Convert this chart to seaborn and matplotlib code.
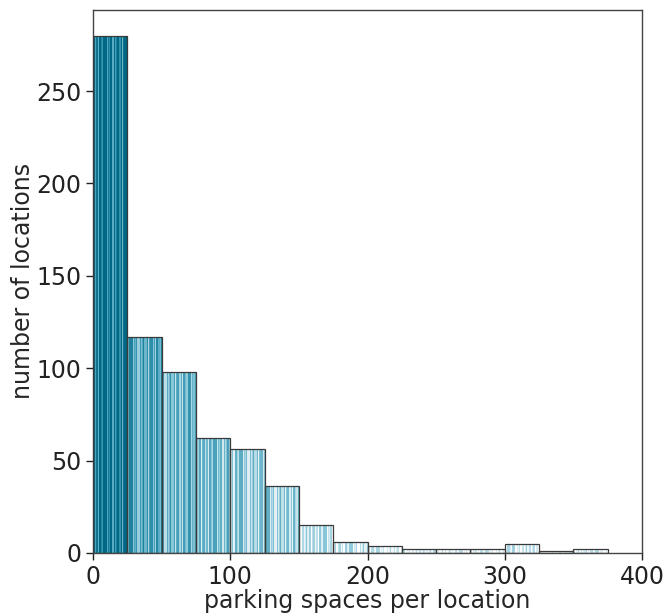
"""
plot.py - histogram of parking spaces per location,
bars filled with thin blue stripes like the original figure
"""
import numpy as np
import pandas as pd
import matplotlib
matplotlib.use("Agg")
import matplotlib.pyplot as plt
from matplotlib.colors import LinearSegmentedColormap
import seaborn as sns

# Bin edges (width 25) and number of locations in each bin
BIN_LEFT = [0, 25, 50, 75, 100, 125, 150, 175, 200, 225, 250, 275, 300, 325, 350]
COUNTS = [280, 117, 98, 62, 56, 36, 15, 6, 4, 2, 2, 2, 5, 1, 2]

# How dark the stripes look on average in each bin (0 = white, 1 = dark teal)
SHADE = [0.84, 0.62, 0.52, 0.45, 0.38, 0.36, 0.22, 0.2, 0.12, 0.1, 0.08, 0.08, 0.15, 0.05, 0.1]

# Repeating stripe pattern, only a texture on top of the mean shade
STRIPES = [0.3, 0.3, -0.25, 0.15, -0.4, 0.35, 0.35, 0.0, -0.15, 0.4, 0.4, 0.4, -0.3, 0.1,
           -0.05, 0.25, -0.35, -0.35, 0.2, -0.2, 0.05, 0.4, -0.1, -0.1, 0.3, -0.45, 0.15]

BIN_WIDTH = 25

sns.set_style("white")
plt.rcParams['font.family'] = ['DejaVu Sans']

stripe_cmap = LinearSegmentedColormap.from_list(
    "stripes", ["#ffffff", "#cfe7ef", "#7cc0d3", "#3a98b4", "#006785"])

df = pd.DataFrame({"left": BIN_LEFT, "count": COUNTS})
df["center"] = df["left"] + BIN_WIDTH / 2
edges = list(BIN_LEFT) + [BIN_LEFT[-1] + BIN_WIDTH]

fig = plt.figure(figsize=(6.64, 6.13), dpi=100)
ax = fig.add_axes([0.140, 0.098, 0.827, 0.886])

# white bars first, the stripes get clipped to these
sns.histplot(data=df, x="center", weights="count", bins=edges, ax=ax,
             color="white", alpha=1, edgecolor="none", linewidth=0)
bars = list(ax.patches)

# one striped image per bar, clipped to the bar
for k, (bar, shade) in enumerate(zip(bars, SHADE)):
    x0 = bar.get_x()
    w = bar.get_width()
    h = bar.get_height()
    n_cols = 30
    vals = np.array([shade + 0.6 * STRIPES[(i + 7 * k) % len(STRIPES)]
                     for i in range(n_cols)])
    vals = np.clip(vals, 0, 1).reshape(1, -1)
    im = ax.imshow(vals, cmap=stripe_cmap, vmin=0, vmax=1, aspect="auto",
                   extent=[x0, x0 + w, 0, h], interpolation="nearest", zorder=2)
    im.set_clip_path(bar)

# outlines on top
sns.histplot(data=df, x="center", weights="count", bins=edges, ax=ax,
             fill=False, color="#3a3a3a", linewidth=0.9, zorder=3)

ax.set_xlim(0, 400)
ax.set_ylim(0, 294)
ax.set_xticks([0, 100, 200, 300, 400])
ax.set_yticks([0, 50, 100, 150, 200, 250])
ax.tick_params(axis="both", labelsize=17, length=5, width=1, direction="out",
               bottom=True, left=True, colors="#222222")
ax.set_xlabel("parking spaces per location", fontsize=17, labelpad=0)
ax.set_ylabel("number of locations", fontsize=17, labelpad=1)
for s in ax.spines.values():
    s.set_color("#444444")
    s.set_linewidth(1)

plt.savefig("out.png", dpi=100)
plt.close()
